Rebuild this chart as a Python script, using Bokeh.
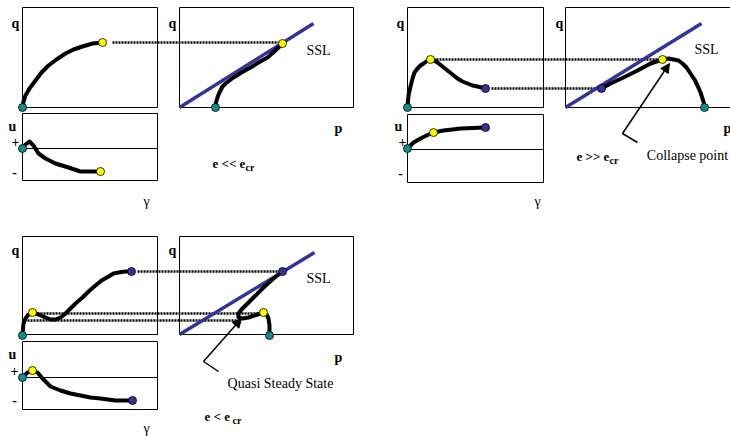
from bokeh.plotting import figure
from bokeh.models import Range1d, Arrow, NormalHead
from bokeh.core.properties import value
from bokeh.embed import file_html
from bokeh.resources import INLINE

# ---------------- data (diagram coordinates) ----------------
# Panel A: e << e_cr
qg1_x = [22, 23, 25, 29, 35, 41, 48, 56, 65, 73, 82, 92, 102]
qg1_y = [107, 101, 95, 88, 80, 72, 65, 59, 53, 49, 46, 43, 42]
pq1_x = [215, 215.5, 217, 218.5, 220, 222, 225, 229, 233, 241, 250, 258, 267, 275, 282]
pq1_y = [107, 102, 97, 93, 90, 86, 83, 80, 77, 72, 67, 62, 57, 50, 43]
ug1_x = [22, 25, 29, 33, 38, 45, 55, 68, 80, 90, 100]
ug1_y = [148, 144, 141, 145, 153, 158, 163, 167, 171, 171, 171]

# Panel B: e >> e_cr
qg2_x = [407, 407.5, 408, 410, 412, 414, 417, 420, 423, 427, 430, 434, 437, 442, 447,
         452, 457, 462, 467, 472, 477, 485]
qg2_y = [107, 100, 95, 86, 78, 72, 68, 65, 63, 60, 59, 60, 62, 66, 70,
         74, 78, 81, 83, 85, 86, 88]
pq2_x = [601, 610, 623, 637, 650, 656, 662, 668, 673, 678, 682, 686, 690, 694, 697,
         700, 702, 703.5, 704]
pq2_y = [88, 83, 77, 70, 63, 61, 59, 58, 59, 60, 63, 67, 73, 79, 85,
         92, 98, 103, 107]
ug2_x = [407, 410, 413, 420, 426, 433, 443, 452, 460, 472, 485]
ug2_y = [148, 145, 142, 138, 135, 132, 130, 129, 128, 127.5, 127]

# Panel C: e < e_cr
qg3_x = [22, 22.5, 23, 25, 27, 30, 32, 35, 38, 45, 50, 55, 60, 64, 68, 75, 82, 88, 95,
         101, 108, 113, 118, 125, 131]
qg3_y = [335, 328, 323, 318, 315, 313, 312, 313, 314, 317, 319, 319, 317, 314, 310, 303,
         297, 291, 285, 280, 276, 273, 272, 271, 271]
pq3_x = [269, 269, 268, 266, 263, 257, 248, 242, 238, 238, 241, 245, 253, 263, 273, 282]
pq3_y = [335, 325, 318, 314, 312, 314, 317, 318, 317, 313, 309, 305, 297, 287, 278, 271]
ug3_x = [22, 27, 32, 37, 42, 50, 60, 70, 80, 90, 100, 115, 132]
ug3_y = [377, 372, 370, 372, 378, 386, 390, 393, 395, 397, 398, 400, 400]

# markers
TEAL, YEL, NAVY = "#138a8c", "#ffff00", "#333399"
dots_x = [22, 102, 215, 282, 22, 100,
          407, 430, 485, 601, 662, 704, 407, 433, 485,
          22, 32, 131, 269, 263, 282, 22, 32, 132]
dots_y = [107, 42, 107, 43, 148, 171,
          107, 59, 88, 88, 59, 107, 148, 132, 127,
          335, 312, 271, 335, 312, 271, 377, 370, 400]
dots_c = [TEAL, YEL, TEAL, YEL, TEAL, YEL,
          TEAL, YEL, NAVY, NAVY, YEL, TEAL, TEAL, YEL, NAVY,
          TEAL, YEL, NAVY, TEAL, YEL, NAVY, TEAL, YEL, NAVY]

# dotted projection lines
dot_x0 = [112, 433, 491, 137, 37, 27]
dot_x1 = [278, 657, 598, 279, 260, 237]
dot_y = [42, 59, 88, 271, 313, 320]

# boxes: left, right, top, bottom
box_l = [22, 179, 22, 407, 565, 407, 22, 179, 22]
box_r = [157, 353, 157, 543, 760, 543, 157, 353, 157]
box_t = [7, 7, 113, 7, 7, 114, 236, 236, 341]
box_b = [107, 107, 180, 107, 107, 182, 334, 334, 409]

# zero lines in u boxes
zero_x0 = [22, 407, 22]
zero_x1 = [157, 543, 157]
zero_y = [148, 149, 377]

# steady state lines
ssl_x0 = [179, 565, 179]
ssl_y0 = [107, 107, 334]
ssl_x1 = [313, 701, 314]
ssl_y1 = [23, 23, 252]

# ---------------- figure ----------------
p = figure(width=730, height=436, x_range=Range1d(0, 730), y_range=Range1d(436, 0),
           output_backend="svg", toolbar_location=None, min_border=0)
p.axis.visible = False
p.grid.visible = False
p.outline_line_color = None
p.background_fill_color = "white"
p.border_fill_color = "white"

p.quad(left=box_l, right=box_r, top=box_t, bottom=box_b, fill_alpha=0,
       line_color="black", line_width=1)
p.segment(x0=zero_x0, x1=zero_x1, y0=zero_y, y1=zero_y, line_color="black", line_width=1)
p.segment(x0=dot_x0, x1=dot_x1, y0=dot_y, y1=dot_y, line_color="black",
          line_width=2.5, line_dash="2 1")
p.segment(x0=ssl_x0, y0=ssl_y0, x1=ssl_x1, y1=ssl_y1, line_color=NAVY, line_width=3.5)

for xs, ys in [(qg1_x, qg1_y), (pq1_x, pq1_y), (ug1_x, ug1_y),
               (qg2_x, qg2_y), (pq2_x, pq2_y), (ug2_x, ug2_y),
               (qg3_x, qg3_y), (pq3_x, pq3_y), (ug3_x, ug3_y)]:
    p.line(xs, ys, line_color="black", line_width=4, line_join="round", line_cap="round")

# arrows
arr_x0 = [622, 203]
arr_y0 = [133, 361]
arr_x1 = [669, 241]
arr_y1 = [63, 318]
for i in range(2):
    p.add_layout(Arrow(end=NormalHead(size=9, fill_color="black", line_color="black"),
                       x_start=arr_x0[i], y_start=arr_y0[i], x_end=arr_x1[i], y_end=arr_y1[i],
                       line_width=1.5, line_color="black"))
tick_x0 = [622, 203]
tick_y0 = [133, 361]
tick_x1 = [637, 218]
tick_y1 = [142, 371]
p.segment(x0=tick_x0, y0=tick_y0, x1=tick_x1, y1=tick_y1, line_color="black", line_width=1.5)

p.scatter(dots_x, dots_y, size=8, fill_color=dots_c, line_color="black", line_width=0.8)

# ---------------- texts ----------------
F = value("Liberation Serif")
bold_txt = ["q", "q", "u", "+", "-", "p", "q", "q", "u", "+", "-", "p",
            "q", "q", "u", "+", "-", "p"]
bold_x = [15, 172, 12, 15, 14, 338, 400, 559, 398, 402, 400, 727,
          15, 172, 12, 14, 14, 338]
bold_y = [23, 23, 126, 141, 171, 128, 23, 23, 126, 141, 172, 128,
          250, 250, 354, 370, 399, 357]
p.text(bold_x, bold_y, text=bold_txt, text_font=F, text_font_style="bold",
       text_font_size="14px", text_align="center", text_baseline="middle")

reg_txt = ["\u03b3", "\u03b3", "\u03b3", "SSL", "SSL", "SSL", "Collapse point", "Quasi Steady State"]
reg_x = [146, 537, 146, 318, 706, 318, 687, 280]
reg_y = [201, 201, 428, 50, 49, 278, 155, 383]
p.text(reg_x, reg_y, text=reg_txt, text_font=F, text_font_size="14px",
       text_align="center", text_baseline="middle")

e_txt = ["e << e", "e >> e", "e < e"]
e_x = [212, 576, 204]
e_y = [163, 156, 416]
p.text(e_x, e_y, text=e_txt, text_font=F, text_font_style="bold", text_font_size="13px",
       text_align="left", text_baseline="middle")
sub_x = [245, 609, 232]
sub_y = [167, 160, 420]
p.text(sub_x, sub_y, text=["cr", "cr", "cr"], text_font=F, text_font_style="bold",
       text_font_size="10px", text_align="left", text_baseline="middle")

open("out.html", "w").write(file_html(p, INLINE))
